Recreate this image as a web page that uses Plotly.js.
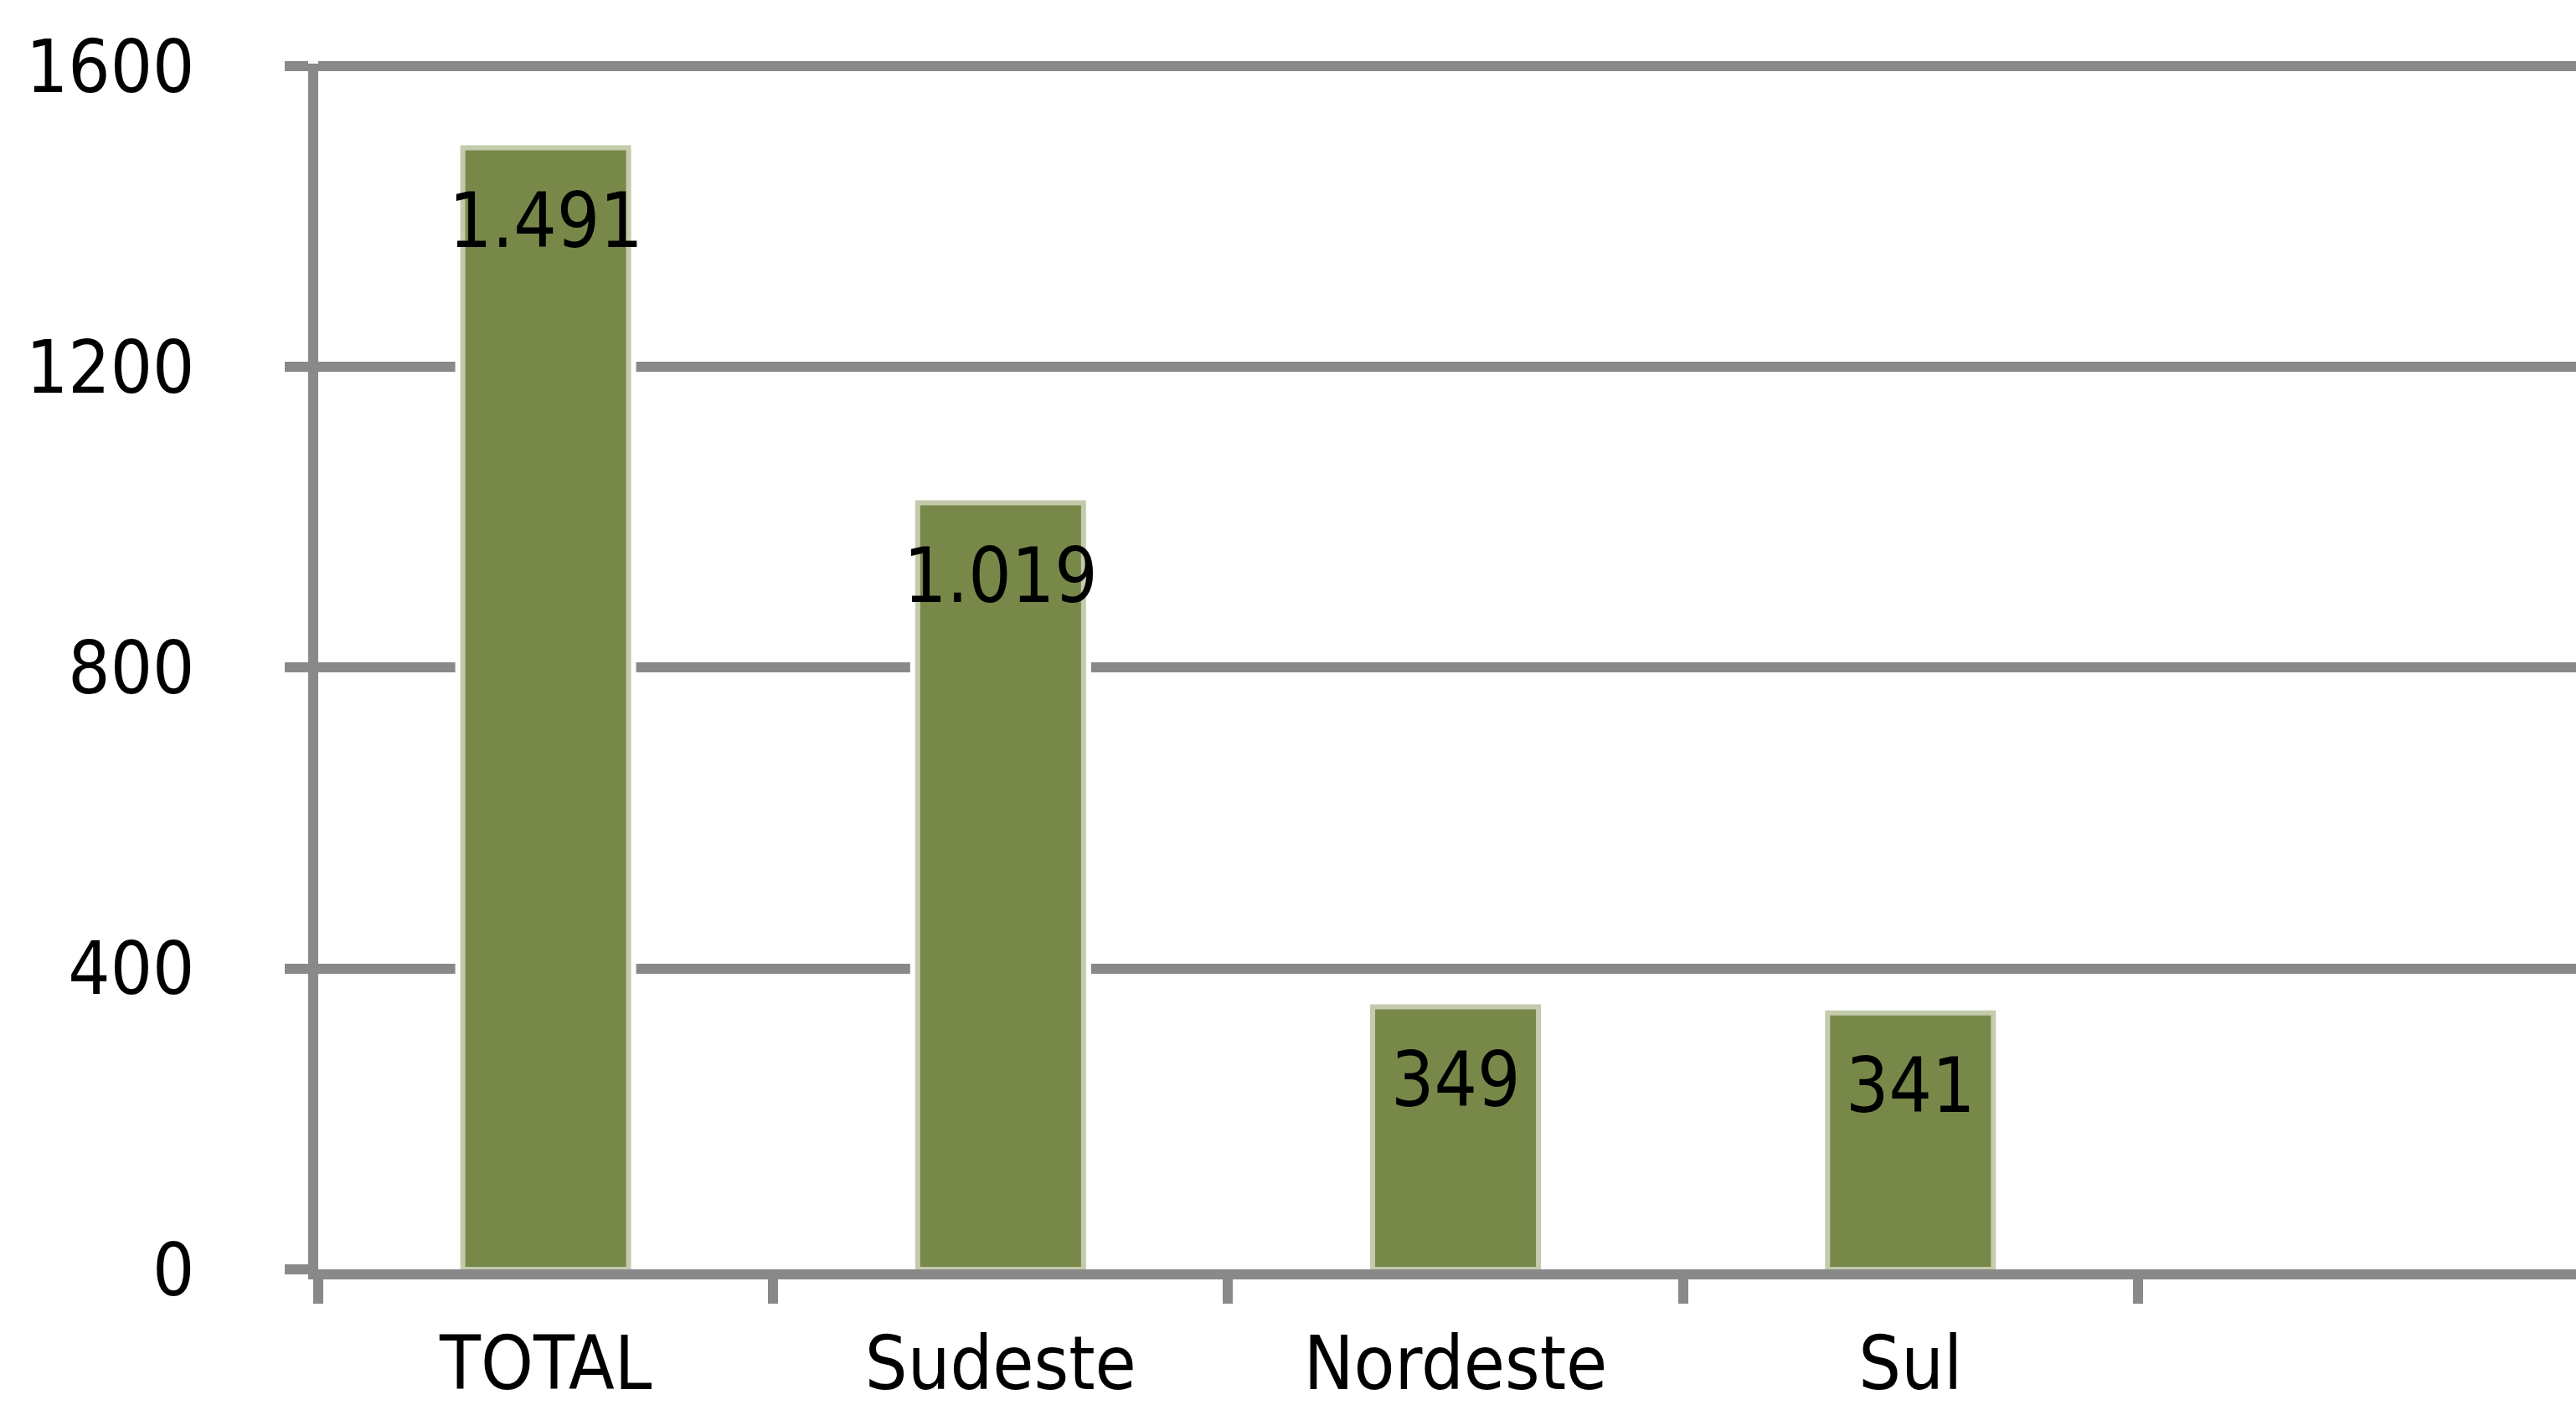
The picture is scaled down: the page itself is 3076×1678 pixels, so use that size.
<!DOCTYPE html>
<html><head><meta charset="utf-8">
<script src="https://cdn.plot.ly/plotly-3.0.1.min.js"></script>
<style>html,body{margin:0;padding:0;background:#fff;} #chart{width:3076px;height:1678px;}</style>
</head><body><div id="chart"></div>
<script>
const categories = ["TOTAL", "Sudeste", "Nordeste", "Sul"];
const values = [1491, 1019, 349, 341];
const yTickValues = [0, 400, 800, 1200, 1600];
const yGridValues = [400, 800, 1200, 1600];

function fmtBR(v) { return String(v).replace(/\B(?=(\d{3})+(?!\d))/g, "."); }

const FONT = '"DejaVu Sans Condensed", "DejaVu Sans", sans-serif';
const GREEN = '#778849';
const GRID = '#898989';
const Y_RANGE = [0, 1603];

const traces = [
  // white halo around each bar (breaks the gridlines like the original)
  {type: 'bar', x: categories, y: values, width: 0.3645, xaxis: 'x', yaxis: 'y',
   marker: {color: GREEN, line: {color: '#ffffff', width: 18}}, hoverinfo: 'skip', showlegend: false},
  // the visible bar with its light edge
  {type: 'bar', x: categories, y: values, width: 0.3645, xaxis: 'x', yaxis: 'y2',
   marker: {color: GREEN, line: {color: '#C4CBAC', width: 6}}, showlegend: false}
];

const annotations = categories.map((c, i) => ({
  x: c, y: values[i], xref: 'x', yref: 'y', text: fmtBR(values[i]), showarrow: false,
  yanchor: 'middle', yshift: -87, font: {family: FONT, size: 90, color: '#000'}
}));

const layout = {
  width: 3076, height: 1678, margin: {l: 380, r: 0, t: 76, b: 162},
  paper_bgcolor: '#fff', plot_bgcolor: 'rgba(0,0,0,0)', barmode: 'overlay', showlegend: false,
  xaxis: {type: 'category', range: [-0.5, 4.463], showgrid: false, zeroline: false,
    showline: true, linecolor: GRID, linewidth: 12,
    ticks: 'outside', tickson: 'boundaries', ticklen: 29, tickwidth: 12, tickcolor: GRID,
    tickfont: {family: FONT, size: 89, color: '#000'}, ticklabelstandoff: 24},
  yaxis: {range: Y_RANGE, tickmode: 'array', tickvals: yTickValues,
    showgrid: false, zeroline: false,
    showline: true, linecolor: GRID, linewidth: 12,
    ticks: 'outside', ticklen: 28, tickwidth: 12, tickcolor: GRID,
    tickfont: {family: FONT, size: 88, color: '#000'}, ticklabelstandoff: 90},
  yaxis2: {range: Y_RANGE, overlaying: 'y', anchor: 'x', side: 'left',
    tickmode: 'array', tickvals: yGridValues, showgrid: true, gridcolor: GRID, gridwidth: 12,
    zeroline: false, showline: false, showticklabels: false, ticks: ''},
  annotations: annotations
};
Plotly.newPlot('chart', traces, layout, {staticPlot: true});
</script></body></html>
